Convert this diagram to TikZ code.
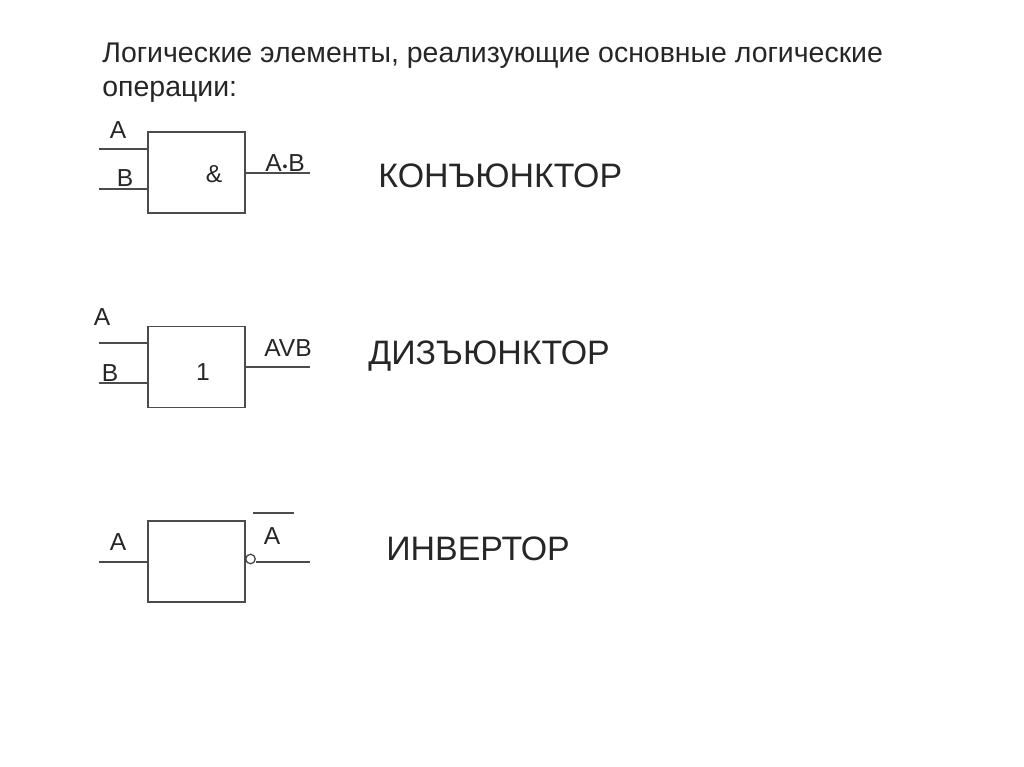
\documentclass[tikz,border=0pt]{standalone}
\usepackage{fontspec}
\setmainfont{Liberation Sans}
\usetikzlibrary{positioning}
\tikzset{
  gate/.style={draw=black!70, line width=0.75pt, minimum width=1.94cm, minimum height=1.62cm, inner sep=0pt},
  wire/.style={draw=black!70, line width=0.75pt},
  pin/.style={font=\fontsize{14}{16}\selectfont, inner sep=0pt, text=black!85},
  kind/.style={font=\fontsize{19.3}{22}\selectfont, inner sep=0pt, anchor=west, text=black!85}
}
\begin{document}
\begin{tikzpicture}[>=latex, x=0.02cm, y=-0.02cm]
    \useasboundingbox (0,0) rectangle (1024,767);
    \node [anchor=north west, inner sep=0pt, align=left, font=\fontsize{16.2}{19.4}\selectfont, text=black!85] (title) at (102,42.5)
      {Логические элементы, реализующие основные логические\\операции:};
    % conjunction
    \node [gate] (andbox) at (196.5,172.5) {};
    \node [pin] (andsign) at (214,174) {\&};
    \coordinate (andA) at (99,149);
    \coordinate (andB) at (99,189);
    \coordinate (andQ) at (310,173);
    \draw [wire] (andA) -- (andA -| andbox.west);
    \draw [wire] (andB) -- (andB -| andbox.west);
    \draw [wire] (andbox.east |- andQ) -- (andQ);
    \node [pin] (andlA) at (118,130) {A};
    \node [pin] (andlB) at (125,178) {B};
    \node [pin] (andlQ) at (285,163) {A\kern0.5pt{\fontsize{8}{8}\selectfont\textbullet}\kern0.5ptB};
    \node [kind] (andname) at (378,176) {КОНЪЮНКТОР};
    % disjunction
    \node [gate] (orbox) at (196.5,367) {};
    \node [pin] (orsign) at (203,372) {1};
    \coordinate (orA) at (99,343);
    \coordinate (orB) at (99,383);
    \coordinate (orQ) at (310,367);
    \draw [wire] (orA) -- (orA -| orbox.west);
    \draw [wire] (orB) -- (orB -| orbox.west);
    \draw [wire] (orbox.east |- orQ) -- (orQ);
    \node [pin] (orlA) at (102,317) {A};
    \node [pin] (orlB) at (110,373) {B};
    \node [pin] (orlQ) at (288,348) {AVB};
    \node [kind] (orname) at (368,356) {ДИЗЪЮНКТОР};
    % inverter
    \node [gate] (notbox) at (196.5,561.5) {};
    \node [circle, draw=black!75, line width=0.7pt, minimum size=0.19cm, inner sep=0pt] (notdot) at (250.5,559) {};
    \coordinate (notA) at (99,562);
    \coordinate (notQ) at (310,562);
    \draw [wire] (notA) -- (notA -| notbox.west);
    \draw [wire] (notdot.east |- notQ) -- (notQ);
    \node [pin] (notlA) at (118,542) {A};
    \node [pin] (notlQ) at (272,536) {A};
    \coordinate (barL) at (253,513);
    \coordinate (barR) at (294,513);
    \draw [wire] (barL) -- (barR);
    \node [kind] (notname) at (386,549) {ИНВЕРТОР};
  \end{tikzpicture}
\end{document}
